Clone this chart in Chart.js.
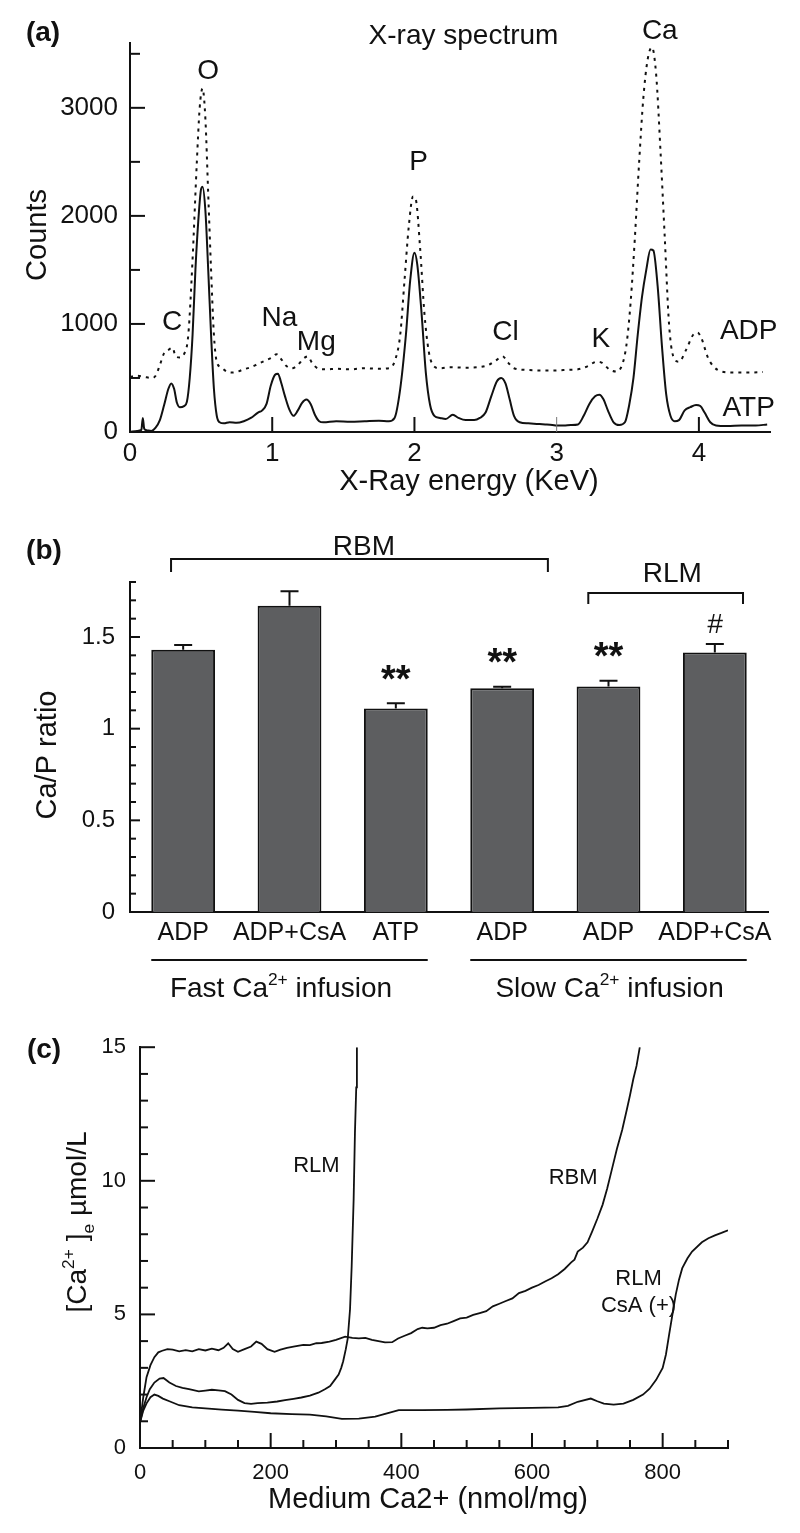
<!DOCTYPE html>
<html>
<head>
<meta charset="utf-8">
<script src="https://cdn.jsdelivr.net/npm/chart.js@4.4.0/dist/chart.umd.min.js"></script>
<style>
  body { margin: 0; background: #fff; }
  #wrap { position: relative; width: 800px; height: 1533px; background: #fff; }
  canvas { position: absolute; left: 0; }
</style>
</head>
<body>
<div id="wrap">
  <canvas id="spec" width="800" height="500" style="top:0px"></canvas>
  <canvas id="ratio" width="800" height="520" style="top:500px"></canvas>
  <canvas id="uptake" width="800" height="513" style="top:1020px"></canvas>
</div>
<script>
// (a) X-ray spectrum
const atpEnergy = [0.00,0.05,0.08,0.09,0.10,0.12,0.15,0.18,0.21,0.24,0.27,0.29,0.31,0.33,0.35,0.38,0.40,0.42,0.44,0.46,0.48,0.50,0.51,0.53,0.55,0.57,0.59,0.61,0.63,0.66,0.70,0.75,0.80,0.85,0.90,0.93,0.96,0.99,1.02,1.04,1.06,1.09,1.12,1.15,1.18,1.21,1.24,1.27,1.30,1.33,1.36,1.45,1.55,1.65,1.75,1.82,1.86,1.90,1.94,1.97,2.00,2.02,2.05,2.08,2.11,2.14,2.18,2.22,2.27,2.31,2.36,2.42,2.46,2.50,2.54,2.58,2.61,2.64,2.67,2.70,2.74,2.80,2.86,2.92,2.97,3.00,3.05,3.10,3.15,3.19,3.23,3.27,3.30,3.33,3.36,3.40,3.44,3.48,3.51,3.54,3.57,3.60,3.63,3.66,3.68,3.71,3.74,3.77,3.80,3.83,3.86,3.90,3.94,3.98,4.01,4.04,4.08,4.12,4.20,4.30,4.40,4.48];
const atpCounts = [0,10,20,130,30,15,10,40,110,250,400,450,400,270,230,240,280,500,900,1500,1950,2250,2270,2050,1500,900,400,150,90,80,90,85,100,130,180,200,260,430,530,540,470,330,210,150,200,270,300,260,160,100,90,100,95,100,105,100,130,400,900,1400,1660,1550,1100,550,250,150,130,120,160,130,110,110,130,180,330,470,500,450,300,150,90,80,75,70,65,60,60,65,70,150,260,330,345,300,200,90,65,90,250,500,900,1250,1500,1690,1680,1350,800,350,150,100,110,200,230,250,240,180,90,60,55,60,60,70];
const adpEnergy = [0.00,0.05,0.10,0.15,0.18,0.21,0.24,0.27,0.30,0.32,0.35,0.38,0.41,0.44,0.47,0.49,0.51,0.53,0.55,0.57,0.59,0.61,0.64,0.68,0.72,0.76,0.80,0.85,0.90,0.95,1.00,1.03,1.06,1.10,1.14,1.18,1.22,1.25,1.28,1.32,1.38,1.45,1.55,1.65,1.75,1.82,1.86,1.90,1.93,1.96,1.99,2.01,2.04,2.07,2.10,2.13,2.18,2.25,2.35,2.45,2.52,2.57,2.62,2.66,2.70,2.78,2.88,2.98,3.08,3.15,3.22,3.28,3.32,3.37,3.42,3.46,3.49,3.52,3.55,3.58,3.61,3.64,3.67,3.70,3.73,3.76,3.79,3.82,3.86,3.91,3.96,3.99,4.02,4.06,4.10,4.16,4.25,4.35,4.45];
const adpCounts = [510,520,510,500,520,620,730,760,780,700,690,720,900,1600,2500,3000,3180,2900,2200,1500,900,650,600,560,550,560,580,600,630,660,690,720,680,610,590,620,680,700,640,590,580,585,580,590,585,590,650,900,1400,1900,2180,2150,1700,1100,750,620,590,600,595,600,620,660,700,640,590,575,570,570,575,580,610,650,640,580,560,620,800,1200,1800,2500,3100,3450,3560,3300,2600,1800,1000,700,650,760,900,920,860,700,610,560,550,550,555];

// (b) Ca/P ratio
const conditions = ['ADP', 'ADP+CsA', 'ATP', 'ADP', 'ADP', 'ADP+CsA'];
const ratio = [1.43, 1.67, 1.11, 1.22, 1.23, 1.415];
const ratioErr = [0.027, 0.08, 0.028, 0.008, 0.032, 0.047];
const significance = ['', '', '**', '**', '**', '#'];

// (c) extramitochondrial Ca2+ vs added Ca2+
const rlmCa = [0,5,10,15,22,30,36,45,55,65,75,90,100,110,120,130,140,150,160,170,180,195,210,222,235,247,260,273,283,291,298,304,308,311,315,318,321.5,324,327,329,331,332];
const rlmConc = [0.95,1.5,1.9,2.2,2.45,2.6,2.62,2.45,2.32,2.25,2.2,2.12,2.15,2.18,2.16,2.13,2.0,1.8,1.68,1.65,1.68,1.7,1.74,1.79,1.84,1.89,1.96,2.07,2.2,2.32,2.55,2.75,3.0,3.25,3.7,4.1,5.2,6.8,9.3,11.8,13.5,15];
const rbmCa = [0,5,10,16,22,28,34,42,50,60,70,80,90,100,110,120,128,135,142,150,160,170,178,186,195,206,215,225,237,250,260,270,278,290,300,314,325,335,345,355,365,375,386,395,405,415,425,432,440,450,460,470,480,490,500,510,520,530,540,550,560,570,580,590,600,610,620,630,640,650,660,665,670,678,685,692,700,708,715,722,730,738,745,750,755,760,765];
const rbmConc = [0.95,1.9,2.65,3.1,3.4,3.58,3.64,3.7,3.68,3.62,3.66,3.62,3.7,3.65,3.72,3.66,3.75,3.92,3.7,3.6,3.7,3.8,3.98,3.9,3.7,3.6,3.68,3.75,3.8,3.86,3.85,3.92,3.93,3.98,4.05,4.17,4.12,4.1,4.12,4.05,4.0,3.95,3.96,4.1,4.2,4.3,4.45,4.5,4.48,4.5,4.6,4.65,4.75,4.85,4.88,4.98,5.05,5.12,5.3,5.4,5.5,5.6,5.8,5.88,6.0,6.1,6.23,6.35,6.5,6.7,6.95,7.05,7.35,7.5,7.7,8.1,8.58,9.1,9.7,10.4,11.2,11.9,12.65,13.2,13.8,14.3,15.0];
const csaCa = [0,5,10,16,22,28,35,45,60,80,100,125,150,175,200,232,260,285,309,335,360,378,396,432,470,500,550,600,640,655,670,690,700,710,725,740,755,770,780,790,800,805,810,815,820,825,830,838,845,860,870,880,890,900];
const csaConc = [0.95,1.4,1.67,1.9,2.0,1.95,1.85,1.75,1.6,1.52,1.48,1.44,1.4,1.35,1.3,1.27,1.25,1.18,1.09,1.1,1.17,1.3,1.42,1.42,1.43,1.44,1.48,1.5,1.52,1.58,1.73,1.85,1.75,1.66,1.62,1.66,1.8,2.0,2.22,2.55,3.0,3.5,4.26,5.0,5.74,6.3,6.73,7.1,7.35,7.7,7.85,7.96,8.05,8.15];

const FAMILY = '"Liberation Sans", Arial, Helvetica, sans-serif';
const INK = '#111';
Chart.defaults.font.family = FAMILY;
Chart.defaults.color = INK;
Chart.defaults.animation = false;
Chart.defaults.events = [];
Chart.defaults.plugins.legend.display = false;
Chart.defaults.plugins.tooltip.enabled = false;

function font(size, weight, style) {
  return (style || 'normal') + ' ' + (weight || 'normal') + ' ' + size + 'px ' + FAMILY;
}

function text(ctx, str, x, y, size, opts) {
  opts = opts || {};
  ctx.save();
  ctx.font = font(size, opts.weight, opts.style);
  ctx.fillStyle = INK;
  ctx.textAlign = opts.align || 'center';
  ctx.textBaseline = 'middle';
  ctx.translate(x, y);
  if (opts.rot) ctx.rotate(opts.rot);
  ctx.fillText(str, 0, 0);
  ctx.restore();
}

// text with super/subscripts, centred on x,y
function rich(ctx, parts, x, y, size, rot) {
  ctx.save();
  ctx.translate(x, y);
  if (rot) ctx.rotate(rot);
  ctx.fillStyle = INK;
  ctx.textAlign = 'left';
  ctx.textBaseline = 'alphabetic';
  let total = 0;
  const runs = parts.map(p => {
    const s = (p.sup || p.sub) ? size * 0.62 : size;
    ctx.font = font(s);
    const w = ctx.measureText(p.t).width;
    total += w;
    return { t: p.t, s: s, w: w, dy: p.sup ? -size * 0.42 : p.sub ? size * 0.28 : 0 };
  });
  let cx = -total / 2;
  runs.forEach(r => {
    ctx.font = font(r.s);
    ctx.fillText(r.t, cx, size * 0.36 + r.dy);
    cx += r.w;
  });
  ctx.restore();
}

// tick marks drawn inside the plot; len(v) gives the length, 0 for none
function tickMarks(spec) {
  return {
    id: 'tickMarks',
    afterDraw(chart) {
      const ctx = chart.ctx, area = chart.chartArea;
      ctx.save();
      ctx.lineCap = 'butt';
      for (const id in spec) {
        const sc = chart.scales[id], s = spec[id];
        sc.ticks.forEach(t => {
          const len = s.len(t.value);
          if (!len) return;
          const thin = s.thin && s.thin(t.value);
          ctx.lineWidth = thin ? 1 : 2;
          ctx.strokeStyle = thin ? '#777' : INK;
          const p = sc.getPixelForValue(t.value);
          ctx.beginPath();
          if (sc.isHorizontal()) { ctx.moveTo(p, area.bottom); ctx.lineTo(p, area.bottom - len); }
          else { ctx.moveTo(area.left, p); ctx.lineTo(area.left + len, p); }
          ctx.stroke();
        });
      }
      ctx.restore();
    }
  };
}

const noGrid = { display: false, drawTicks: false };
function axisLine() {
  return { display: true, color: INK, width: 2 };
}
const isHalf = v => Math.abs(v * 2 - Math.round(v * 2)) < 1e-6;

// ---------- (a) ----------
const specLabels = [
  { t: 'X-ray spectrum', x: 2.345, y: 3660 },
  { t: 'O', x: 0.55, y: 3340 },
  { t: 'Ca', x: 3.725, y: 3710 },
  { t: 'P', x: 2.03, y: 2500 },
  { t: 'C', x: 0.296, y: 1020 },
  { t: 'Na', x: 1.05, y: 1050 },
  { t: 'Mg', x: 1.31, y: 826 },
  { t: 'Cl', x: 2.64, y: 920 },
  { t: 'K', x: 3.31, y: 855 },
  { t: 'ADP', x: 4.35, y: 928 },
  { t: 'ATP', x: 4.35, y: 223 }
];

new Chart(document.getElementById('spec'), {
  type: 'line',
  data: {
    datasets: [
      {
        label: 'ADP',
        data: adpEnergy.map((e, i) => ({ x: e, y: adpCounts[i] })),
        borderColor: INK, borderWidth: 2, borderDash: [3, 5],
        pointRadius: 0, cubicInterpolationMode: 'monotone'
      },
      {
        label: 'ATP',
        data: atpEnergy.map((e, i) => ({ x: e, y: atpCounts[i] })),
        borderColor: INK, borderWidth: 2,
        pointRadius: 0, cubicInterpolationMode: 'monotone'
      }
    ]
  },
  options: {
    responsive: false,
    layout: { padding: { left: 0, right: 30, top: 43, bottom: 0 } },
    scales: {
      x: {
        type: 'linear', min: 0, max: 4.5,
        afterFit: s => { s.height = 68; },
        grid: noGrid, border: axisLine(),
        ticks: { stepSize: 1, maxTicksLimit: 100, includeBounds: false, autoSkip: false, padding: 6, maxRotation: 0, font: { size: 26 } }
      },
      y: {
        min: 0, max: 3600,
        afterFit: s => { s.width = 130; },
        grid: noGrid, border: axisLine(),
        ticks: {
          stepSize: 100, maxTicksLimit: 100, includeBounds: false, autoSkip: false, padding: 12, font: { size: 26 },
          callback: v => (v % 1000 === 0 ? String(v) : '')
        }
      }
    }
  },
  plugins: [
    tickMarks({
      x: { len: () => 15, thin: v => v === 3 },
      y: { len: v => (v % 1000 === 0 ? 15 : v % 500 === 0 ? 10 : 0) }
    }),
    {
      id: 'specText',
      afterDraw(chart) {
        const ctx = chart.ctx, xs = chart.scales.x, ys = chart.scales.y;
        specLabels.forEach(l => text(ctx, l.t, xs.getPixelForValue(l.x), ys.getPixelForValue(l.y), 28));
        text(ctx, '(a)', 43, 33, 28, { weight: 'bold' });
        text(ctx, 'Counts', 38, 235, 29, { rot: -Math.PI / 2 });
        text(ctx, 'X-Ray energy (KeV)', 469, 482, 29);
      }
    }
  ]
});

// ---------- (b) ----------
new Chart(document.getElementById('ratio'), {
  type: 'bar',
  data: {
    labels: conditions,
    datasets: [{
      data: ratio,
      backgroundColor: '#5d5e60',
      borderColor: INK,
      borderWidth: 2,
      barPercentage: 0.6,
      categoryPercentage: 1
    }]
  },
  options: {
    responsive: false,
    layout: { padding: { left: 0, right: 32, top: 82, bottom: 0 } },
    scales: {
      x: {
        afterFit: s => { s.height = 108; },
        grid: noGrid, border: axisLine(),
        ticks: { padding: 6, autoSkip: false, maxRotation: 0, minRotation: 0, font: { size: 25 } }
      },
      y: {
        min: 0, max: 1.8,
        afterFit: s => { s.width = 130; },
        grid: noGrid, border: axisLine(),
        ticks: {
          stepSize: 0.1, maxTicksLimit: 100, includeBounds: false, autoSkip: false, padding: 15, font: { size: 24 },
          callback: v => (isHalf(v) ? String(v) : '')
        }
      }
    }
  },
  plugins: [
    tickMarks({
      y: { len: v => (isHalf(v) ? 10 : 6) }
    }),
    {
      id: 'errorBars',
      afterDatasetsDraw(chart) {
        const ctx = chart.ctx, ys = chart.scales.y;
        ctx.save();
        ctx.strokeStyle = INK;
        ctx.lineWidth = 2;
        chart.getDatasetMeta(0).data.forEach((bar, i) => {
          const top = ys.getPixelForValue(ratio[i] + ratioErr[i]);
          ctx.beginPath();
          ctx.moveTo(bar.x, bar.y);
          ctx.lineTo(bar.x, top);
          ctx.moveTo(bar.x - 9, top);
          ctx.lineTo(bar.x + 9, top);
          ctx.stroke();
          const mark = significance[i];
          if (mark === '**') text(ctx, mark, bar.x, top - 22, 38, { weight: 'bold' });
          else if (mark) text(ctx, mark, bar.x, top - 19, 28, { style: 'italic' });
        });
        ctx.restore();
      },
      afterDraw(chart) {
        const ctx = chart.ctx, xs = chart.scales.x, ys = chart.scales.y, area = chart.chartArea;
        const px = v => xs.getPixelForValue(v), py = v => ys.getPixelForValue(v);
        ctx.save();
        ctx.strokeStyle = INK;
        ctx.lineWidth = 2;
        // brackets over groups
        [[-0.114, 3.43, 1.925, 1.855], [3.81, 5.265, 1.74, 1.68]].forEach(b => {
          ctx.beginPath();
          ctx.moveTo(px(b[0]), py(b[3]));
          ctx.lineTo(px(b[0]), py(b[2]));
          ctx.lineTo(px(b[1]), py(b[2]));
          ctx.lineTo(px(b[1]), py(b[3]));
          ctx.stroke();
        });
        // lines under infusion groups
        [[-0.3, 2.3], [2.7, 5.3]].forEach(g => {
          ctx.beginPath();
          ctx.moveTo(px(g[0]), area.bottom + 48);
          ctx.lineTo(px(g[1]), area.bottom + 48);
          ctx.stroke();
        });
        ctx.restore();
        text(ctx, 'RBM', px(1.70), py(1.99), 28);
        text(ctx, 'RLM', px(4.60), py(1.84), 28);
        rich(ctx, [{ t: 'Fast Ca' }, { t: '2+', sup: 1 }, { t: ' infusion' }], px(0.92), area.bottom + 75, 28);
        rich(ctx, [{ t: 'Slow Ca' }, { t: '2+', sup: 1 }, { t: ' infusion' }], px(4.01), area.bottom + 75, 28);
        text(ctx, '(b)', 44, 51, 28, { weight: 'bold' });
        text(ctx, 'Ca/P ratio', 48, 255, 29, { rot: -Math.PI / 2 });
      }
    }
  ]
});

// ---------- (c) ----------
const uptakeLabels = [
  { t: 'RLM', x: 270, y: 10.55 },
  { t: 'RBM', x: 663, y: 10.1 },
  { t: 'RLM', x: 763, y: 6.33 },
  { t: 'CsA (+)', x: 763, y: 5.3 }
];

function trace(xs, ys) {
  return {
    data: xs.map((x, i) => ({ x: x, y: ys[i] })),
    borderColor: INK, borderWidth: 1.8, pointRadius: 0, tension: 0
  };
}

new Chart(document.getElementById('uptake'), {
  type: 'line',
  data: {
    datasets: [
      Object.assign({ label: 'RLM' }, trace(rlmCa, rlmConc)),
      Object.assign({ label: 'RBM' }, trace(rbmCa, rbmConc)),
      Object.assign({ label: 'RLM CsA (+)' }, trace(csaCa, csaConc))
    ]
  },
  options: {
    responsive: false,
    layout: { padding: { left: 0, right: 72, top: 23, bottom: 0 } },
    scales: {
      x: {
        type: 'linear', min: 0, max: 900,
        afterFit: s => { s.height = 85; },
        grid: noGrid, border: axisLine(),
        ticks: {
          stepSize: 50, maxTicksLimit: 100, autoSkip: false, padding: 12, maxRotation: 0, font: { size: 22 },
          callback: v => (v % 200 === 0 ? String(v) : '')
        }
      },
      y: {
        min: 0, max: 15,
        afterFit: s => { s.width = 140; },
        grid: noGrid, border: axisLine(),
        ticks: {
          stepSize: 1, maxTicksLimit: 100, autoSkip: false, padding: 14, font: { size: 22 },
          callback: v => (v % 5 === 0 ? String(v) : '')
        }
      }
    }
  },
  plugins: [
    tickMarks({
      x: { len: v => (v % 200 === 0 ? 15 : 8) },
      y: { len: v => (v % 5 === 0 ? 15 : 8) }
    }),
    {
      id: 'uptakeText',
      afterDraw(chart) {
        const ctx = chart.ctx, xs = chart.scales.x, ys = chart.scales.y;
        uptakeLabels.forEach(l => text(ctx, l.t, xs.getPixelForValue(l.x), ys.getPixelForValue(l.y), 22));
        text(ctx, '(c)', 44, 30, 28, { weight: 'bold' });
        text(ctx, 'Medium Ca2+ (nmol/mg)', 428, 480, 29);
        rich(ctx, [{ t: '[Ca' }, { t: '2+', sup: 1 }, { t: ' ]' }, { t: 'e', sub: 1 }, { t: ' µmol/L' }], 76, 202, 28, -Math.PI / 2);
      }
    }
  ]
});
</script>
</body>
</html>
